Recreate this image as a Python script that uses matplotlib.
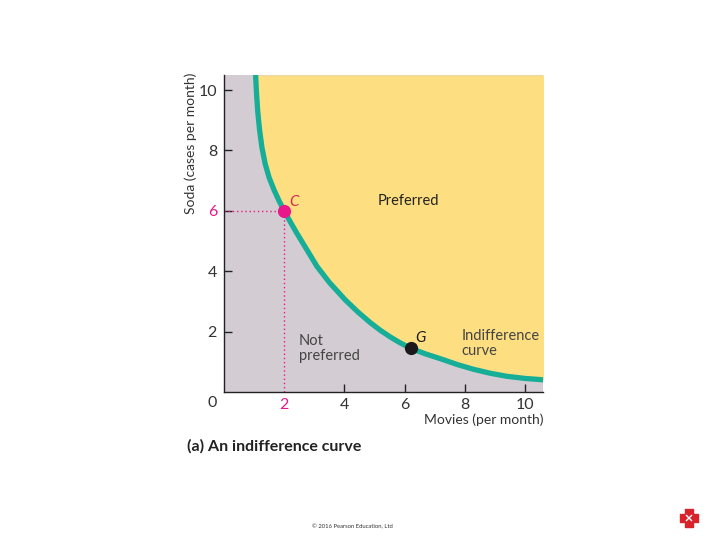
import matplotlib
matplotlib.use("Agg")
import matplotlib.pyplot as plt

# Indifference curve (Movies per month, Soda cases per month)
curve_x = [1.05, 1.08, 1.12, 1.18, 1.26, 1.37, 1.5, 1.66, 1.83, 2.0, 2.2, 2.42, 2.7, 3.09, 3.5, 4.03,
           4.45, 4.87, 5.2, 5.53, 5.85, 6.2, 6.7, 7.2, 7.75, 8.3, 8.85, 9.4, 10.0, 10.65]
curve_y = [10.5, 9.9, 9.3, 8.7, 8.1, 7.55, 7.1, 6.7, 6.33, 6.0, 5.64, 5.26, 4.8, 4.16, 3.63, 3.05,
           2.65, 2.29, 2.04, 1.82, 1.63, 1.45, 1.26, 1.1, 0.91, 0.75, 0.62, 0.52, 0.45, 0.40]

point_C = (2, 6)
point_G = (6.2, 1.45)

x_ticks = [2, 4, 6, 8, 10]
y_ticks = [2, 4, 6, 8, 10]
x_max, y_max = 10.6, 10.5

YELLOW = "#FDDF82"
GREY = "#D3CDD3"
TEAL = "#17AE98"
MAGENTA = "#E8188B"
TXT = "#333333"

plt.rcParams['font.family'] = ['Lato', 'DejaVu Sans']

fig = plt.figure(figsize=(7.2, 5.4), dpi=100)
ax = fig.add_axes([224/720, 1-392/540, (543-224)/720, (392-75)/540])
ax.set_xlim(0, x_max)
ax.set_ylim(0, y_max)
ax.set_facecolor(GREY)

ax.fill_between(curve_x, curve_y, y_max, color=YELLOW, lw=0, zorder=1)
ax.plot(curve_x, curve_y, color=TEAL, lw=3.8, solid_capstyle='butt', solid_joinstyle='round', zorder=3)

# dotted guide lines to C
ax.plot([0, point_C[0]], [point_C[1], point_C[1]], color=MAGENTA, lw=1, ls=(0, (1, 2)), zorder=2)
ax.plot([point_C[0], point_C[0]], [0, point_C[1]], color=MAGENTA, lw=1, ls=(0, (1, 2)), zorder=2)

ax.plot(*point_C, 'o', color=MAGENTA, ms=8.5, zorder=4)
ax.plot(*point_G, 'o', color='#1a1a1a', ms=8.5, zorder=4)
ax.text(point_C[0] + 0.17, point_C[1] + 0.3, "C", color="#D8264E", fontsize=11, style='italic', va='center', zorder=5)
ax.text(point_G[0] + 0.15, point_G[1] + 0.33, "G", color="#1a1a1a", fontsize=11, style='italic', va='center', zorder=5)

ax.text(5.1, 6.33, "Preferred", fontsize=10.5, color="#222222", va='center', ha='left')
ax.text(2.48, 1.45, "Not\npreferred", fontsize=10.5, color="#444444", va='center', ha='left', linespacing=1.1)
ax.text(7.9, 1.62, "Indifference\ncurve", fontsize=10.5, color="#444444", va='center', ha='left', linespacing=1.1)

for s in ['top', 'right']:
    ax.spines[s].set_visible(False)
for s in ['left', 'bottom']:
    ax.spines[s].set_color('#222222')
    ax.spines[s].set_linewidth(1)

ax.set_xticks(x_ticks)
ax.set_yticks(y_ticks)
ax.set_xticklabels([str(v) for v in x_ticks])
ax.set_yticklabels([str(v) for v in y_ticks])
ax.tick_params(direction='in', length=6, width=1, color='#222222', labelsize=11.5, labelcolor=TXT)
ax.tick_params(axis='x', pad=4)
ax.tick_params(axis='y', pad=5)
for lbl, v in zip(ax.get_xticklabels(), x_ticks):
    if v == point_C[0]:
        lbl.set_color(MAGENTA)
for lbl, v in zip(ax.get_yticklabels(), y_ticks):
    if v == point_C[1]:
        lbl.set_color(MAGENTA)
ax.xaxis.get_major_ticks()[0].tick1line.set_visible(False)

fig.text(212/720, 1-403/540, "0", fontsize=11.5, color=TXT, ha='center', va='center')
fig.text(191/720, 1-143/540, "Soda (cases per month)", rotation=90, fontsize=10, color=TXT, ha='center', va='center')
fig.text(543/720, 1-420/540, "Movies (per month)", fontsize=10, color=TXT, ha='right', va='center')
fig.text(187/720, 1-446/540, "(a) An indifference curve", fontsize=11.5, fontweight='bold', color="#222222", ha='left', va='center')
fig.text(312/720, 1-527/540, "\u00a9 2016 Pearson Education, Ltd", fontsize=4.2, color="#333333", ha='left', va='center')

# small logo
lax = fig.add_axes([679/720, 1-528/540, 20/720, 20/540])
lax.set_xlim(-1, 1); lax.set_ylim(-1, 1); lax.axis('off')
lax.scatter([0, -0.5, 0.5, 0, 0], [0, 0, 0, 0.5, -0.5], s=28, color="#D8232A", marker='s')
lax.plot([-0.25, 0.25], [-0.25, 0.25], color='white', lw=1)
lax.plot([-0.25, 0.25], [0.25, -0.25], color='white', lw=1)

fig.savefig("out.png", dpi=100)
